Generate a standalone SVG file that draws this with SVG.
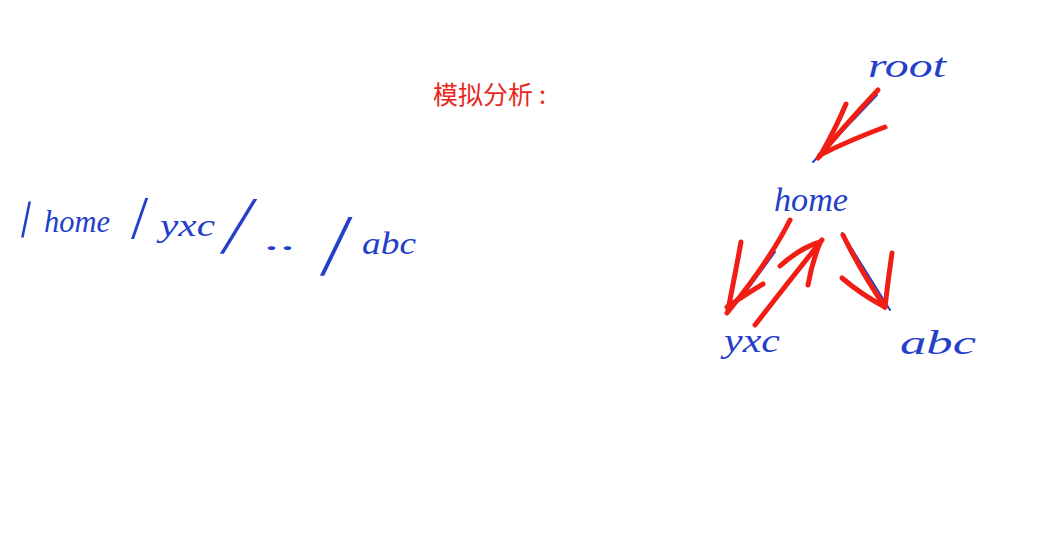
<svg xmlns="http://www.w3.org/2000/svg" width="1047" height="535" viewBox="0 0 1047 535">
<style>
.hw{font-family:"Liberation Serif","DejaVu Serif",serif;font-style:italic;fill:#2440c8}
.sl{font-family:"Liberation Serif","DejaVu Serif",serif;fill:#2440c8}
.ed{stroke:#2440c8;stroke-width:2;fill:none;stroke-linecap:round}
.ar{stroke:#f01e14;stroke-width:5;fill:none;stroke-linecap:round;stroke-linejoin:round}
.title{font-family:"Noto Sans CJK SC","Noto Sans",sans-serif;font-size:25px;fill:#e8281e}
</style>
<rect width="1047" height="535" fill="#ffffff"/>
<g id="title"><text class="title" x="433" y="104">模拟分析<tspan dx="6">:</tspan></text></g>
<g id="path-expr">
<text class="sl" font-size="54" transform="translate(21,237) skewX(8)">/</text>
<text class="hw" x="44" y="232" font-size="32" textLength="66" lengthAdjust="spacingAndGlyphs">home</text>
<text class="sl" font-size="62" transform="translate(131,238)">/</text>
<text class="hw" x="160" y="236" font-size="32" textLength="55" lengthAdjust="spacingAndGlyphs">yxc</text>
<text class="sl" font-size="82" transform="translate(220,253) skewX(-15)">/</text>
<text class="hw" x="265" y="250" font-size="32" textLength="32" lengthAdjust="spacingAndGlyphs">..</text>
<text class="sl" font-size="88" transform="translate(320,275) skewX(-8)">/</text>
<text class="hw" x="362" y="254" font-size="32" textLength="54" lengthAdjust="spacingAndGlyphs">abc</text>
</g>
<g id="node-root"><text class="hw" x="868" y="77" font-size="34" textLength="78" lengthAdjust="spacingAndGlyphs">root</text></g>
<g id="node-home"><text class="hw" x="774" y="211" font-size="34" textLength="74" lengthAdjust="spacingAndGlyphs">home</text></g>
<g id="node-yxc"><text class="hw" x="724" y="352" font-size="34" textLength="56" lengthAdjust="spacingAndGlyphs">yxc</text></g>
<g id="node-abc"><text class="hw" x="900" y="354" font-size="34" textLength="76" lengthAdjust="spacingAndGlyphs">abc</text></g>
<g id="connectors">
<path class="ed" d="M813 162 L877 95"/>
<path class="ed" d="M775 252 L745 293"/>
<path class="ed" d="M842 233 L890 310"/>
<path class="ar" d="M878 90 Q845 125 818 158"/>
<path class="ar" d="M846 104 Q835 130 820 156"/>
<path class="ar" d="M885 127 Q850 140 820 155"/>
<path class="ar" d="M790 220 Q770 260 727 313"/>
<path class="ar" d="M741 242 Q735 275 728 310"/>
<path class="ar" d="M763 284 Q745 295 727 307"/>
<path class="ar" d="M755 325 Q790 280 822 240"/>
<path class="ar" d="M780 266 Q800 248 820 242"/>
<path class="ar" d="M808 285 Q812 262 820 243"/>
<path class="ar" d="M843 235 Q860 270 885 307"/>
<path class="ar" d="M892 253 Q888 280 885 307"/>
<path class="ar" d="M842 278 Q862 295 885 307"/>
</g>
</svg>
